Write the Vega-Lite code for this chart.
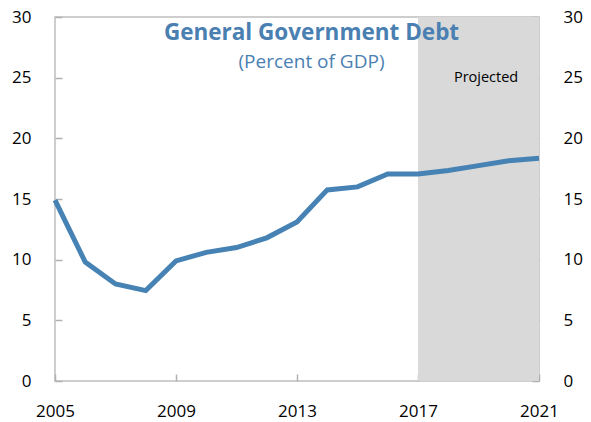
{
  "$schema": "https://vega.github.io/schema/vega-lite/v6.json",
  "width": 484,
  "height": 364,
  "autosize": {"type": "none"},
  "padding": {"left": 55, "top": 17, "right": 52, "bottom": 41},
  "background": "white",
  "config": {
    "view": {"stroke": "#BFBFBF", "strokeWidth": 1.5},
    "font": "Open Sans",
    "axis": {
      "grid": false,
      "ticks": true,
      "domain": false,
      "zindex": 1,
      "offset": -7,
      "tickSize": 7,
      "tickColor": "#B0B0B0",
      "tickWidth": 1.5,
      "labelFont": "Open Sans",
      "labelFontSize": 17,
      "labelColor": "black",
      "title": null
    }
  },
  "datasets": {
    "debt": [
      {"year": 2005, "value": 14.9},
      {"year": 2006, "value": 9.8},
      {"year": 2007, "value": 8.0},
      {"year": 2008, "value": 7.45},
      {"year": 2009, "value": 9.9},
      {"year": 2010, "value": 10.6},
      {"year": 2011, "value": 11.0},
      {"year": 2012, "value": 11.8},
      {"year": 2013, "value": 13.1},
      {"year": 2014, "value": 15.75},
      {"year": 2015, "value": 16.0},
      {"year": 2016, "value": 17.07},
      {"year": 2017, "value": 17.07},
      {"year": 2018, "value": 17.35},
      {"year": 2019, "value": 17.75},
      {"year": 2020, "value": 18.15},
      {"year": 2021, "value": 18.35}
    ],
    "shade": [{"start": 2017, "end": 2021, "low": 0, "high": 30}],
    "labels": [
      {"x": 2013.48, "y": 28.65, "text": "General Government Debt", "kind": "title"},
      {"x": 2013.48, "y": 26.3, "text": "(Percent of GDP)", "kind": "subtitle"},
      {"x": 2019.25, "y": 25.0, "text": "Projected", "kind": "note"}
    ]
  },
  "layer": [
    {
      "data": {"name": "shade"},
      "mark": {"type": "rect", "color": "#D9D9D9"},
      "encoding": {
        "x": {"field": "start", "type": "quantitative", "scale": {"domain": [2005, 2021], "nice": false, "zero": false},
              "axis": {"values": [2005, 2009, 2013, 2017, 2021], "format": "d", "labelPadding": 22, "labelFlush": false}},
        "x2": {"field": "end"},
        "y": {"field": "low", "type": "quantitative", "scale": {"domain": [0, 30], "nice": false},
              "axis": {"orient": "right", "values": [0, 5, 10, 15, 20, 25, 30], "labelPadding": 24}},
        "y2": {"field": "high"}
      }
    },
    {
      "data": {"name": "debt"},
      "mark": {"type": "line", "color": "#4682B4", "strokeWidth": 5, "strokeJoin": "miter"},
      "encoding": {
        "x": {"field": "year", "type": "quantitative", "scale": {"domain": [2005, 2021], "nice": false, "zero": false}},
        "y": {"field": "value", "type": "quantitative", "scale": {"domain": [0, 30], "nice": false},
              "axis": {"orient": "left", "values": [0, 5, 10, 15, 20, 25, 30], "labelPadding": 24}}
      }
    },
    {
      "data": {"name": "labels"},
      "transform": [{"filter": "datum.kind == 'title'"}],
      "mark": {"type": "text", "font": "Open Sans", "fontSize": 22.5, "fontWeight": "bold", "color": "#4A7FB2", "align": "center", "baseline": "middle"},
      "encoding": {
        "x": {"field": "x", "type": "quantitative", "scale": {"domain": [2005, 2021], "nice": false, "zero": false}},
        "y": {"field": "y", "type": "quantitative", "scale": {"domain": [0, 30], "nice": false}, "axis": null},
        "text": {"field": "text"}
      }
    },
    {
      "data": {"name": "labels"},
      "transform": [{"filter": "datum.kind == 'subtitle'"}],
      "mark": {"type": "text", "font": "Open Sans", "fontSize": 19, "color": "#4A7FB2", "align": "center", "baseline": "middle"},
      "encoding": {
        "x": {"field": "x", "type": "quantitative", "scale": {"domain": [2005, 2021], "nice": false, "zero": false}},
        "y": {"field": "y", "type": "quantitative", "scale": {"domain": [0, 30], "nice": false}, "axis": null},
        "text": {"field": "text"}
      }
    },
    {
      "data": {"name": "labels"},
      "transform": [{"filter": "datum.kind == 'note'"}],
      "mark": {"type": "text", "font": "Open Sans", "fontSize": 14.5, "color": "black", "align": "center", "baseline": "middle"},
      "encoding": {
        "x": {"field": "x", "type": "quantitative", "scale": {"domain": [2005, 2021], "nice": false, "zero": false}},
        "y": {"field": "y", "type": "quantitative", "scale": {"domain": [0, 30], "nice": false}, "axis": null},
        "text": {"field": "text"}
      }
    }
  ],
  "resolve": {"scale": {"y": "independent"}}
}
